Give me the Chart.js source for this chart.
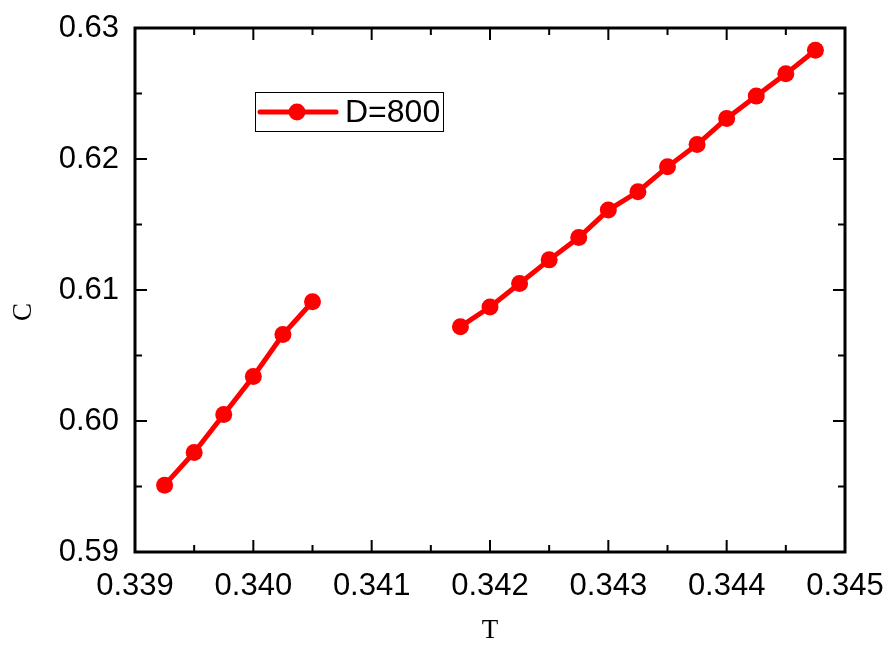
<!DOCTYPE html>
<html>
<head>
<meta charset="utf-8">
<script src="https://cdn.jsdelivr.net/npm/chart.js@4.4.0/dist/chart.umd.min.js"></script>
<style>
    html, body { margin: 0; padding: 0; background: #fff; }
    #wrap { width: 888px; height: 647px; }
</style>
</head>
<body>
<div id="wrap"><canvas id="grafico"></canvas></div>
<script>
// Dados (null = lacuna na curva)
const valoresT = [0.33925, 0.3395, 0.33975, 0.340, 0.34025, 0.3405,
    0.341,
    0.34175, 0.342, 0.34225, 0.3425, 0.34275, 0.343, 0.34325, 0.3435, 0.34375, 0.344, 0.34425, 0.3445, 0.34475];
const valoresC = [0.5951, 0.5976, 0.6005, 0.6034, 0.6066, 0.6091,
    null,
    0.6072, 0.6087, 0.6105, 0.6123, 0.6140, 0.6161, 0.6175, 0.6194, 0.6211, 0.6231, 0.6248, 0.6265, 0.6283];
const rotuloSerie = 'D=800';
const ticksT = [0.339, 0.340, 0.341, 0.342, 0.343, 0.344, 0.345];
const ticksC = [0.59, 0.60, 0.61, 0.62, 0.63];
const menoresT = [0.3395, 0.3405, 0.3415, 0.3425, 0.3435, 0.3445];
const menoresC = [0.595, 0.605, 0.615, 0.625];

const vermelho = '#ff0000';

// Moldura com marcas para dentro
const moldura = {
    id: 'moldura',
    afterDatasetsDraw(chart) {
        const { ctx, chartArea: a, scales: { x, y } } = chart;
        ctx.save();
        ctx.strokeStyle = '#000';
        ctx.lineWidth = 2;
        ctx.beginPath();
        ticksT.forEach(v => {
            const px = x.getPixelForValue(v);
            ctx.moveTo(px, a.bottom); ctx.lineTo(px, a.bottom - 12);
            ctx.moveTo(px, a.top); ctx.lineTo(px, a.top + 12);
        });
        menoresT.forEach(v => {
            const px = x.getPixelForValue(v);
            ctx.moveTo(px, a.bottom); ctx.lineTo(px, a.bottom - 7);
            ctx.moveTo(px, a.top); ctx.lineTo(px, a.top + 7);
        });
        ticksC.forEach(v => {
            const py = y.getPixelForValue(v);
            ctx.moveTo(a.left, py); ctx.lineTo(a.left + 12, py);
            ctx.moveTo(a.right, py); ctx.lineTo(a.right - 12, py);
        });
        menoresC.forEach(v => {
            const py = y.getPixelForValue(v);
            ctx.moveTo(a.left, py); ctx.lineTo(a.left + 7, py);
            ctx.moveTo(a.right, py); ctx.lineTo(a.right - 7, py);
        });
        ctx.stroke();
        ctx.lineWidth = 3;
        ctx.strokeRect(a.left, a.top, a.right - a.left, a.bottom - a.top);

        // título do eixo Y (um pouco abaixo do centro, como no original)
        ctx.fillStyle = '#000';
        ctx.font = '27px "Liberation Serif", "Times New Roman", serif';
        ctx.textAlign = 'center';
        ctx.textBaseline = 'middle';
        ctx.translate(24, 312);
        ctx.rotate(-Math.PI / 2);
        ctx.fillText('C', 0, 0);
        ctx.restore();
    }
};

// Legenda desenhada à mão (linha + marcador)
const legenda = {
    id: 'legenda',
    afterDraw(chart) {
        const { ctx } = chart;
        const ds = chart.data.datasets[0];
        ctx.save();
        ctx.fillStyle = '#fff';
        ctx.fillRect(255, 92, 188, 39);
        ctx.strokeStyle = '#000';
        ctx.lineWidth = 1;
        ctx.strokeRect(255.5, 92.5, 188, 39);
        ctx.strokeStyle = ds.borderColor;
        ctx.lineWidth = ds.borderWidth;
        ctx.lineCap = 'round';
        ctx.beginPath();
        ctx.moveTo(260, 112); ctx.lineTo(336, 112);
        ctx.stroke();
        ctx.fillStyle = ds.pointBackgroundColor;
        ctx.beginPath();
        ctx.arc(297, 112, ds.pointRadius, 0, Math.PI * 2);
        ctx.fill();
        ctx.fillStyle = '#000';
        ctx.font = '32px "Liberation Sans", Arial, sans-serif';
        ctx.textAlign = 'left';
        ctx.textBaseline = 'middle';
        ctx.fillText(ds.label, 345, 113);
        ctx.restore();
    }
};

function criarGrafico() {
    const ctx = document.getElementById('grafico').getContext('2d');
    new Chart(ctx, {
        type: 'scatter',
        data: {
            datasets: [{
                label: rotuloSerie,
                data: valoresT.map((t, i) => ({ x: t, y: valoresC[i] })),
                showLine: true,
                spanGaps: false,
                borderColor: vermelho,
                backgroundColor: vermelho,
                pointBackgroundColor: vermelho,
                pointBorderWidth: 0,
                borderWidth: 5,
                pointRadius: 8.5,
                pointHoverRadius: 8.5
            }]
        },
        options: {
            responsive: true,
            maintainAspectRatio: false,
            animation: false,
            events: [],
            layout: { padding: { top: 28, right: 43, left: 0, bottom: 0 } },
            plugins: {
                legend: { display: false },
                tooltip: { enabled: false }
            },
            scales: {
                x: {
                    type: 'linear',
                    min: 0.339,
                    max: 0.345,
                    afterFit: s => { s.height = 95; s.paddingLeft = 0; s.paddingRight = 0; },
                    afterBuildTicks: s => { s.ticks = ticksT.map(v => ({ value: v })); },
                    grid: { display: false, drawTicks: false },
                    border: { display: false },
                    ticks: {
                        padding: 16,
                        color: '#000',
                        font: { family: '"Liberation Sans", Arial, sans-serif', size: 31 },
                        callback: v => v.toFixed(3),
                        maxRotation: 0
                    },
                    title: {
                        display: true,
                        text: 'T',
                        color: '#000',
                        padding: { top: 0, bottom: 0 },
                        font: { family: '"Liberation Serif", "Times New Roman", serif', size: 27 }
                    }
                },
                y: {
                    type: 'linear',
                    min: 0.59,
                    max: 0.63,
                    afterFit: s => { s.width = 135; s.paddingTop = 0; s.paddingBottom = 0; },
                    afterBuildTicks: s => { s.ticks = ticksC.map(v => ({ value: v })); },
                    grid: { display: false, drawTicks: false },
                    border: { display: false },
                    ticks: {
                        padding: 16,
                        color: '#000',
                        font: { family: '"Liberation Sans", Arial, sans-serif', size: 31 },
                        callback: v => v.toFixed(2)
                    }
                }
            }
        },
        plugins: [moldura, legenda]
    });
}

document.addEventListener('DOMContentLoaded', criarGrafico);
</script>
</body>
</html>
